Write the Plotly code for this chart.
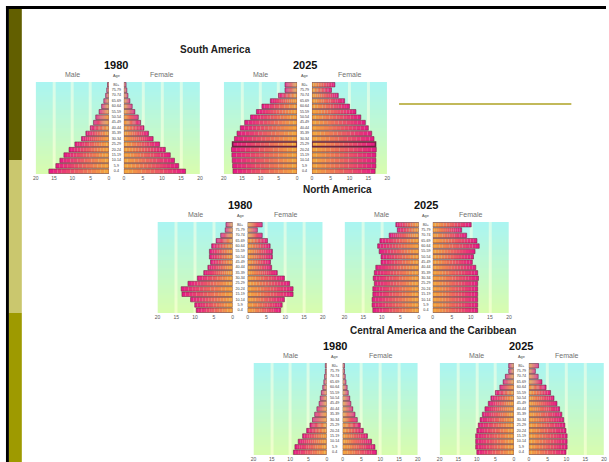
import plotly.graph_objects as go

# ---------------- data (millions, index 0 = 0-4 ... 16 = 80+) ----------------
AGE_GROUPS = ["0-4", "5-9", "10-14", "15-19", "20-24", "25-29", "30-34", "35-39",
              "40-44", "45-49", "50-54", "55-59", "60-64", "65-69", "70-74", "75-79", "80+"]
TICK_VALUES = [0, 5, 10, 15, 20]
TICK_LABELS = ["0", "5", "10", "15", "20"]

SA_1980_MALE = [16.4, 14.5, 13.4, 12.3, 10.9, 9.3, 7.5, 6.3, 5.1, 4.2, 3.6, 2.7, 2.0, 1.4, 0.9, 0.6, 0.4]
SA_1980_FEMALE = [16.2, 14.4, 13.3, 12.2, 10.9, 9.4, 7.7, 6.5, 5.3, 4.4, 3.8, 2.9, 2.2, 1.6, 1.1, 0.8, 0.6]
SA_2025_MALE = [17.5, 17.6, 17.7, 17.8, 17.9, 17.6, 17.1, 16.4, 15.5, 14.3, 12.7, 11.1, 9.6, 7.3, 5.1, 3.3, 3.3]
SA_2025_FEMALE = [16.8, 17.0, 17.0, 17.0, 17.1, 16.9, 16.5, 15.9, 15.0, 14.2, 13.0, 11.7, 10.0, 8.7, 7.0, 5.2, 6.1]

NA_1980_MALE = [9.7, 10.1, 11.2, 13.5, 13.7, 11.9, 9.4, 7.7, 6.6, 5.9, 6.2, 6.2, 5.6, 4.4, 3.2, 2.0, 1.8]
NA_1980_FEMALE = [8.8, 9.2, 9.8, 12.1, 12.1, 11.2, 9.8, 7.9, 6.4, 6.1, 6.6, 6.6, 6.0, 5.3, 3.9, 2.6, 3.9]
NA_2025_MALE = [12.4, 12.6, 12.6, 12.4, 12.4, 12.0, 12.3, 12.0, 11.6, 10.2, 10.2, 10.7, 11.1, 10.5, 8.0, 5.8, 6.2]
NA_2025_FEMALE = [11.8, 11.8, 11.8, 11.8, 11.8, 11.8, 12.0, 11.8, 11.3, 10.4, 10.7, 11.1, 12.2, 11.6, 8.9, 7.6, 10.1]

CA_1980_MALE = [9.1, 8.7, 7.8, 6.6, 5.5, 4.6, 3.9, 3.3, 2.7, 2.1, 1.8, 1.5, 1.1, 0.8, 0.6, 0.4, 0.4]
CA_1980_FEMALE = [9.0, 8.6, 7.7, 6.6, 5.5, 4.7, 3.9, 3.3, 2.7, 2.2, 1.9, 1.5, 1.2, 0.9, 0.7, 0.5, 0.5]
CA_2025_MALE = [10.0, 10.3, 10.3, 10.3, 10.0, 9.6, 9.1, 8.5, 7.8, 6.9, 6.2, 5.0, 3.8, 2.9, 2.3, 1.4, 1.4]
CA_2025_FEMALE = [9.9, 10.2, 10.2, 10.2, 9.9, 9.6, 9.3, 8.8, 8.2, 7.5, 6.7, 5.8, 4.6, 3.5, 2.5, 1.75, 2.6]

REGION_TITLES = ["South America", "North America", "Central America and the Caribbean"]

# ---------------- layout helpers ----------------
W, H = 609, 462
def X(px):
    return px / W
def Y(py):
    return 1 - py / H

FONT = "Arial, Liberation Sans, sans-serif"
INNER = (244, 170, 60)    # orange near the centre
OUTER = (230, 24, 134)    # magenta at outer end
NSEG = 14

def mix(t):
    c = [round(INNER[i] + (OUTER[i] - INNER[i]) * t) for i in range(3)]
    return f"rgb({c[0]},{c[1]},{c[2]})"

PYRAMIDS = [
    dict(male=SA_1980_MALE, female=SA_1980_FEMALE, year="1980", box=(33, 107, 122, 199, 82, 174), hl=None),
    dict(male=SA_2025_MALE, female=SA_2025_FEMALE, year="2025", box=(223, 297, 312, 388, 82, 174), hl=5),
    dict(male=NA_1980_MALE, female=NA_1980_FEMALE, year="1980", box=(156, 232, 247, 323, 222, 313), hl=None),
    dict(male=NA_2025_MALE, female=NA_2025_FEMALE, year="2025", box=(345, 420, 434, 511, 222, 313), hl=None),
    dict(male=CA_1980_MALE, female=CA_1980_FEMALE, year="1980", box=(253, 327, 343, 419, 363, 455), hl=None),
    dict(male=CA_2025_MALE, female=CA_2025_FEMALE, year="2025", box=(441, 516, 531, 607, 363, 455), hl=None),
]

fig = go.Figure()
layout = {}
annotations = []
idx = list(range(len(AGE_GROUPS)))
ymin, ymax = -0.5, len(AGE_GROUPS) - 0.5
xmax = TICK_VALUES[-1]

# background grid: vertical gradient with pale stripes at inner ticks
STRIPE_HALF = 0.4
bg_xedges = [TICK_VALUES[0]]
bg_is_stripe = []
for t in TICK_VALUES[1:-1]:
    bg_xedges += [t - STRIPE_HALF, t + STRIPE_HALF]
    bg_is_stripe += [False, True]
bg_xedges.append(TICK_VALUES[-1])
bg_is_stripe.append(False)
NROWS = 36
bg_yedges = [ymin + (ymax - ymin) * r / NROWS for r in range(NROWS + 1)]
bg_z = []
for r in range(NROWS):
    t = (r + 0.5) / NROWS
    bg_z.append([t + (2 if s else 0) for s in bg_is_stripe])
BG_SCALE = [[0, "#d8fcae"], [1 / 3, "#aaf5f2"], [2 / 3, "#f0ffc8"], [1, "#d6fcec"]]

for p, pyr in enumerate(PYRAMIDS):
    lx0, lx1, rx0, rx1, y0, y1 = pyr["box"]
    xn = [3 * p + 1, 3 * p + 2, 3 * p + 3]
    yn = p + 1
    xref = ["x" if n == 1 else f"x{n}" for n in xn]
    yref = "y" if yn == 1 else f"y{yn}"
    xkey = ["xaxis" if n == 1 else f"xaxis{n}" for n in xn]
    ykey = "yaxis" if yn == 1 else f"yaxis{yn}"

    common_x = dict(showgrid=False, zeroline=False, showline=False, ticks="",
                    tickvals=TICK_VALUES, ticktext=TICK_LABELS,
                    tickfont=dict(size=5, color="#555", family=FONT),
                    anchor=yref, fixedrange=True)
    layout[xkey[0]] = dict(common_x, domain=[X(lx0), X(lx1)], range=[xmax, 0])
    layout[xkey[2]] = dict(common_x, domain=[X(rx0), X(rx1)], range=[0, xmax])
    layout[xkey[1]] = dict(domain=[X(lx1), X(rx0)], range=[-1, 1], visible=False, anchor=yref)
    layout[ykey] = dict(domain=[Y(y1), Y(y0)], range=[ymin, ymax], visible=False, anchor=xref[0])

    for side, vals in ((0, pyr["male"]), (2, pyr["female"])):
        xa = xref[side]
        fig.add_trace(go.Heatmap(
            x=bg_xedges, y=bg_yedges, z=bg_z, zmin=0, zmax=3, colorscale=BG_SCALE,
            showscale=False, hoverinfo="skip", xaxis=xa, yaxis=yref))
        # gradient bars (stacked segments)
        for k in range(NSEG):
            fig.add_trace(go.Bar(
                orientation="h", y=idx, x=[v / NSEG for v in vals],
                base=[v * k / NSEG for v in vals], width=0.84,
                marker=dict(color=mix((k + 0.5) / NSEG), line=dict(width=0)),
                hoverinfo="skip", showlegend=False, xaxis=xa, yaxis=yref))
        # outlines
        widths = [0.55] * len(vals)
        if pyr["hl"] is not None:
            widths[pyr["hl"]] = 1.6
        fig.add_trace(go.Bar(
            orientation="h", y=idx, x=vals, base=[0] * len(vals), width=0.84,
            marker=dict(color="rgba(0,0,0,0)", line=dict(color="#6a2440", width=widths)),
            hoverinfo="skip", showlegend=False, xaxis=xa, yaxis=yref))

    # age labels in the centre strip
    fig.add_trace(go.Scatter(x=[0] * len(AGE_GROUPS), y=idx, mode="text", text=AGE_GROUPS,
                             textfont=dict(size=3.6, color="#333", family=FONT),
                             hoverinfo="skip", showlegend=False, xaxis=xref[1], yaxis=yref))

    gc = (lx1 + rx0) / 2
    annotations += [
        dict(text=f"<b>{pyr['year']}</b>", x=X(gc), y=Y(y0 - 17), font=dict(size=11, color="#111", family=FONT)),
        dict(text="Male", x=X((lx0 + lx1) / 2), y=Y(y0 - 8), font=dict(size=7, color="#707070", family=FONT)),
        dict(text="Female", x=X((rx0 + rx1) / 2), y=Y(y0 - 8), font=dict(size=7, color="#707070", family=FONT)),
        dict(text="Age", x=X(gc), y=Y(y0 - 6), font=dict(size=3.8, color="#444", family=FONT)),
    ]

for title, (cx, cy) in zip(REGION_TITLES, [(215, 49), (338, 189), (434, 330)]):
    annotations.append(dict(text=f"<b>{title}</b>", x=X(cx), y=Y(cy),
                            font=dict(size=10, color="#222", family=FONT)))

for a in annotations:
    a.update(xref="paper", yref="paper", showarrow=False, xanchor="center", yanchor="middle")

shapes = [
    dict(type="rect", x0=X(3), x1=1.0, y0=Y(9), y1=Y(6), fillcolor="#000", line=dict(width=0)),
    dict(type="rect", x0=X(3), x1=X(6), y0=0, y1=Y(6), fillcolor="#000", line=dict(width=0)),
    dict(type="rect", x0=X(6), x1=X(19), y0=Y(160), y1=Y(9), fillcolor="#625f00", line=dict(width=0)),
    dict(type="rect", x0=X(6), x1=X(19), y0=Y(313), y1=Y(160), fillcolor="#cac76e", line=dict(width=0)),
    dict(type="rect", x0=X(6), x1=X(19), y0=0, y1=Y(313), fillcolor="#9e9a00", line=dict(width=0)),
    dict(type="line", x0=X(400), x1=X(574), y0=Y(104), y1=Y(104), line=dict(color="#c2b95a", width=2)),
]
for s in shapes:
    s.update(xref="paper", yref="paper")

fig.update_layout(
    width=W, height=H, margin=dict(l=0, r=0, t=0, b=0),
    paper_bgcolor="white", plot_bgcolor="rgba(0,0,0,0)",
    barmode="overlay", showlegend=False,
    annotations=annotations, shapes=shapes,
    font=dict(family=FONT),
    **layout,
)

fig.write_html("out.html", config={"displayModeBar": False, "staticPlot": True},
               post_script="document.body.style.margin='0';document.body.style.overflow='hidden';")
